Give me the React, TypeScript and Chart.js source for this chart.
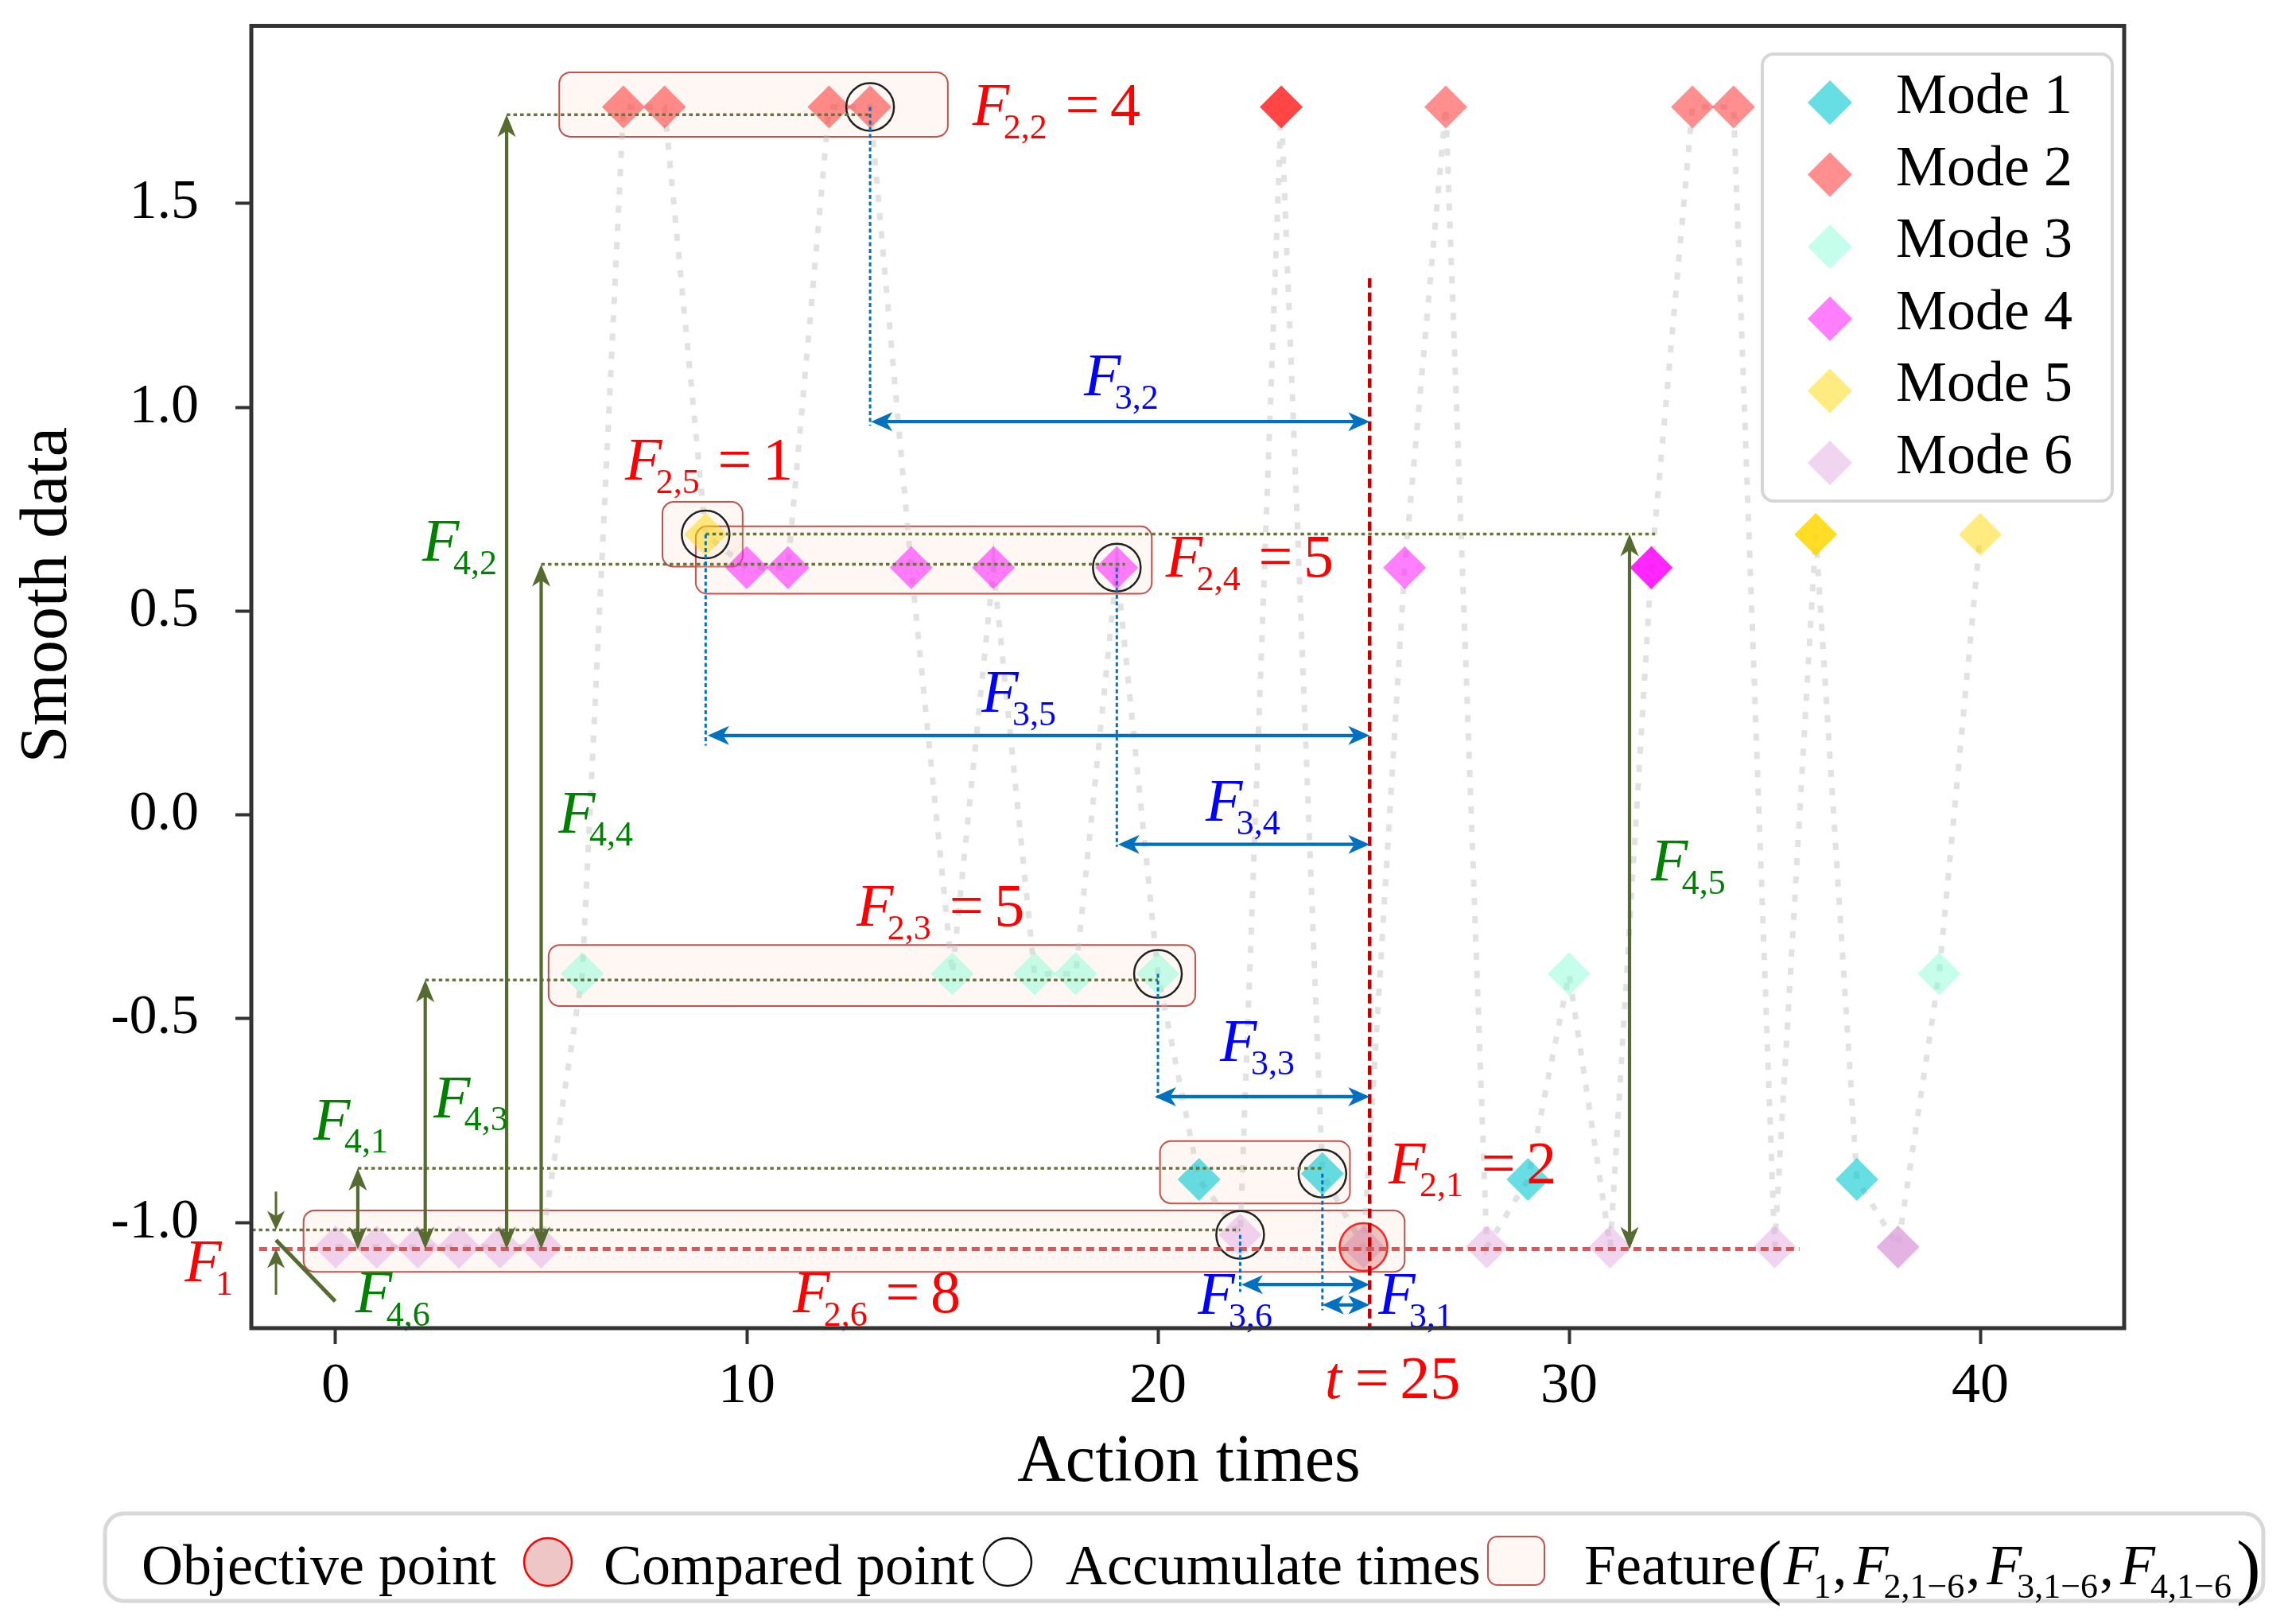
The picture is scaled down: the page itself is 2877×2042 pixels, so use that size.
import React, { useEffect, useRef } from 'react';
import { Chart, registerables } from 'chart.js';

Chart.register(...registerables);

const CANVAS_W = 2877;
const CANVAS_H = 2042;
const SERIF = '"Liberation Serif", "Times New Roman", serif';

// ---------------- data ----------------
const actionTimes = [0, 1, 2, 3, 4, 5, 6, 7, 8, 9, 10, 11, 12, 13, 14, 15, 16, 17, 18, 19, 20,
  21, 22, 23, 24, 25, 26, 27, 28, 29, 30, 31, 32, 33, 34, 35, 36, 37, 38, 39, 40];
const pointModes = [6, 6, 6, 6, 6, 6, 3, 2, 2, 5, 4, 4, 2, 2, 4, 3, 4, 3, 3, 4, 3,
  1, 6, 2, 1, 6, 4, 2, 6, 1, 3, 6, 4, 2, 2, 6, 5, 1, 6, 3, 5];
const smoothData = [-1.06, -1.06, -1.06, -1.06, -1.06, -1.06,
  -0.39, 1.737, 1.737, 0.688, 0.607, 0.607, 1.737, 1.737, 0.607, -0.39, 0.607, -0.39, -0.39, 0.607, -0.39,
  -0.894, -1.03, 1.737, -0.88, -1.06, 0.607, 1.737, -1.06, -0.894, -0.39, -1.06, 0.607, 1.737, 1.737,
  -1.06, 0.688, -0.894, -1.06, -0.39, 0.688];
const modeNames = ['Mode 1', 'Mode 2', 'Mode 3', 'Mode 4', 'Mode 5', 'Mode 6'];
const comparedTimes = [13, 9, 19, 20, 24, 22];
const objectiveTime = 25;
const strongTimes = [23, 32, 36, 38];

const xRange = [-2.05, 43.5];
const yRange = [-1.259, 1.936];
const xTickStep = 10;
const yTickStep = 0.5;

// ---------------- styles ----------------
const modeRGB = ['0,200,210', '255,50,50', '127,255,212', '255,0,255', '255,215,0', '221,160,221'];
const modeAlpha = [0.6, 0.55, 0.45, 0.5, 0.5, 0.45];
const OLIVE = '#556b2f';
const OLIVE_DOT = '#66763a';
const BLUE_ARROW = '#0070c0';
const RED_T = '#c00000';

// ---------------- annotation geometry (data coordinates) ----------------
const tLineX = 25.15;
const tLineTop = 1.317;
const objectiveLevel = -1.065;
const objectiveLine = { x0: -1.86, x1: 35.6 };

const featureBoxes = [
  { x0: 5.44, x1: 14.89, yTop: 1.822, yBottom: 1.664 },
  { x0: 7.95, x1: 9.9, yTop: 0.768, yBottom: 0.609 },
  { x0: 8.76, x1: 19.85, yTop: 0.708, yBottom: 0.543 },
  { x0: 5.18, x1: 20.91, yTop: -0.319, yBottom: -0.469 },
  { x0: 20.05, x1: 24.67, yTop: -0.8, yBottom: -0.953 },
  { x0: -0.78, x1: 26.0, yTop: -0.97, yBottom: -1.121 },
];

const levelLines = [
  { y: 1.718, x0: 4.16, x1: 13 },
  { y: 0.689, x0: 9, x1: 32.09 },
  { y: 0.615, x0: 5.0, x1: 19.2 },
  { y: -0.405, x0: 2.18, x1: 20 },
  { y: -0.867, x0: 0.54, x1: 24 },
  { y: -1.018, x0: -2.03, x1: 22 },
];

const f4Arrows = [
  { x: 0.54, yTop: -0.867 },
  { x: 2.18, yTop: -0.405 },
  { x: 4.16, yTop: 1.718 },
  { x: 5.0, yTop: 0.615 },
  { x: 31.47, yTop: 0.689 },
];

const f3Arrows = [
  { y: 0.965, x0: 13.02 },
  { y: 0.195, x0: 9.05 },
  { y: -0.072, x0: 19.03 },
  { y: -0.691, x0: 19.92 },
  { y: -1.152, x0: 22.03 },
  { y: -1.202, x0: 24.0 },
];

const blueGuides = [
  { x: 13, y0: 1.737, y1: 0.955 },
  { x: 9, y0: 0.688, y1: 0.17 },
  { x: 19, y0: 0.607, y1: -0.078 },
  { x: 20, y0: -0.39, y1: -0.695 },
  { x: 22, y0: -1.03, y1: -1.17 },
  { x: 24, y0: -0.88, y1: -1.215 },
];

const f1Marker = { x: -1.45, upperFrom: -0.924, upperTo: -1.018, lowerFrom: -1.177, lowerTo: -1.065 };
const f46Pointer = { x0: -1.45, y0: -1.043, x1: -0.008, y1: -1.193 };

const RED = '#ff0000';
const BLUE = '#0000ff';
const GREEN = '#008000';
const fLabels = [
  { x: 15.49, y: 1.693, sub: '2,2', value: '4', color: RED },
  { x: 18.2, y: 1.029, sub: '3,2', value: null, color: BLUE },
  { x: 7.04, y: 0.823, sub: '2,5', value: '1', color: RED },
  { x: 20.19, y: 0.584, sub: '2,4', value: '5', color: RED },
  { x: 2.11, y: 0.623, sub: '4,2', value: null, color: GREEN },
  { x: 15.71, y: 0.253, sub: '3,5', value: null, color: BLUE },
  { x: 5.42, y: -0.043, sub: '4,4', value: null, color: GREEN },
  { x: 21.16, y: -0.014, sub: '3,4', value: null, color: BLUE },
  { x: 31.99, y: -0.161, sub: '4,5', value: null, color: GREEN },
  { x: 12.67, y: -0.272, sub: '2,3', value: '5', color: RED },
  { x: 21.51, y: -0.603, sub: '3,3', value: null, color: BLUE },
  { x: 2.38, y: -0.741, sub: '4,3', value: null, color: GREEN },
  { x: -0.54, y: -0.796, sub: '4,1', value: null, color: GREEN },
  { x: 25.61, y: -0.903, sub: '2,1', value: '2', color: RED },
  { x: -3.67, y: -1.144, sub: '1', value: null, color: RED },
  { x: 0.48, y: -1.22, sub: '4,6', value: null, color: GREEN },
  { x: 11.12, y: -1.22, sub: '2,6', value: '8', color: RED },
  { x: 20.97, y: -1.224, sub: '3,6', value: null, color: BLUE },
  { x: 25.36, y: -1.224, sub: '3,1', value: null, color: BLUE },
];
const tLabel = { x: 24.06, y: -1.43, name: 't', value: '25' };

// ---------------- drawing helpers ----------------
function roundRectPath(ctx: CanvasRenderingContext2D, x: number, y: number, w: number, h: number, r: number) {
  ctx.beginPath();
  ctx.moveTo(x + r, y);
  ctx.lineTo(x + w - r, y);
  ctx.arcTo(x + w, y, x + w, y + r, r);
  ctx.lineTo(x + w, y + h - r);
  ctx.arcTo(x + w, y + h, x + w - r, y + h, r);
  ctx.lineTo(x + r, y + h);
  ctx.arcTo(x, y + h, x, y + h - r, r);
  ctx.lineTo(x, y + r);
  ctx.arcTo(x, y, x + r, y, r);
  ctx.closePath();
}

function arrowHead(ctx: CanvasRenderingContext2D, x: number, y: number, ang: number, L: number, Wh: number) {
  const c = Math.cos(ang), s = Math.sin(ang);
  ctx.beginPath();
  ctx.moveTo(x, y);
  ctx.lineTo(x - L * c + Wh * s, y - L * s - Wh * c);
  ctx.lineTo(x - L * 0.72 * c, y - L * 0.72 * s);
  ctx.lineTo(x - L * c - Wh * s, y - L * s + Wh * c);
  ctx.closePath();
  ctx.fill();
}

function arrow(ctx: CanvasRenderingContext2D, x1: number, y1: number, x2: number, y2: number,
  color: string, lw: number, L: number, Wh: number, headStart: boolean, headEnd: boolean) {
  const ang = Math.atan2(y2 - y1, x2 - x1);
  const c = Math.cos(ang), s = Math.sin(ang);
  let sx = x1, sy = y1, ex = x2, ey = y2;
  if (headStart) { sx += c * L * 0.7; sy += s * L * 0.7; }
  if (headEnd) { ex -= c * L * 0.7; ey -= s * L * 0.7; }
  ctx.save();
  ctx.setLineDash([]);
  ctx.strokeStyle = color;
  ctx.fillStyle = color;
  ctx.lineWidth = lw;
  ctx.beginPath();
  ctx.moveTo(sx, sy);
  ctx.lineTo(ex, ey);
  ctx.stroke();
  if (headEnd) arrowHead(ctx, x2, y2, ang, L, Wh);
  if (headStart) arrowHead(ctx, x1, y1, ang + Math.PI, L, Wh);
  ctx.restore();
}

function dashedLine(ctx: CanvasRenderingContext2D, x1: number, y1: number, x2: number, y2: number,
  color: string, lw: number, dash: number[]) {
  ctx.save();
  ctx.strokeStyle = color;
  ctx.lineWidth = lw;
  ctx.setLineDash(dash);
  ctx.beginPath();
  ctx.moveTo(x1, y1);
  ctx.lineTo(x2, y2);
  ctx.stroke();
  ctx.restore();
}

function drawFLabel(ctx: CanvasRenderingContext2D, x: number, y: number, main: string, sub: string | null,
  value: string | null, color: string, size = 76) {
  ctx.save();
  ctx.fillStyle = color;
  ctx.textAlign = 'left';
  ctx.textBaseline = 'alphabetic';
  ctx.font = `italic ${size}px ${SERIF}`;
  ctx.fillText(main, x, y);
  let cx = x + ctx.measureText(main).width;
  if (sub) {
    cx -= size * 0.1;
    const ss = Math.round(size * 0.58);
    ctx.font = `${ss}px ${SERIF}`;
    ctx.fillText(sub, cx, y + size * 0.22);
    cx += ctx.measureText(sub).width;
  }
  if (value != null) {
    cx += sub ? size * 0.3 : size * 0.22;
    ctx.font = `${size}px ${SERIF}`;
    ctx.fillText('=', cx, y);
    cx += ctx.measureText('=').width + size * 0.18;
    ctx.fillText(value, cx, y);
  }
  ctx.restore();
}

function diamond(ctx: CanvasRenderingContext2D, x: number, y: number, r: number, fill: string) {
  ctx.beginPath();
  ctx.moveTo(x, y - r);
  ctx.lineTo(x + r, y);
  ctx.lineTo(x, y + r);
  ctx.lineTo(x - r, y);
  ctx.closePath();
  ctx.fillStyle = fill;
  ctx.fill();
}

function zeroPadding(s: any) {
  s.paddingTop = 0;
  s.paddingBottom = 0;
  s.paddingLeft = 0;
  s.paddingRight = 0;
}

const overlayPlugin = {
  id: 'overlayAnnotations',
  beforeDatasetsDraw(chart: any) {
    const { ctx } = chart;
    const X = (v: number) => chart.scales.x.getPixelForValue(v);
    const Y = (v: number) => chart.scales.y.getPixelForValue(v);
    ctx.save();
    for (const b of featureBoxes) {
      const x0 = X(b.x0), x1 = X(b.x1), y0 = Y(b.yTop), y1 = Y(b.yBottom);
      roundRectPath(ctx, x0, y0, x1 - x0, y1 - y0, 14);
      ctx.fillStyle = 'rgba(250,220,200,0.22)';
      ctx.fill();
      ctx.strokeStyle = '#c8504a';
      ctx.lineWidth = 2;
      ctx.stroke();
    }
    ctx.restore();
  },
  afterDatasetsDraw(chart: any) {
    const { ctx, chartArea } = chart;
    const X = (v: number) => chart.scales.x.getPixelForValue(v);
    const Y = (v: number) => chart.scales.y.getPixelForValue(v);

    dashedLine(ctx, X(objectiveLine.x0), Y(objectiveLevel), X(objectiveLine.x1), Y(objectiveLevel), '#cd5c5c', 5, [10, 6]);
    for (const l of levelLines) dashedLine(ctx, X(l.x0), Y(l.y), X(l.x1), Y(l.y), OLIVE_DOT, 3.5, [4.5, 4]);
    for (const g of blueGuides) dashedLine(ctx, X(g.x), Y(g.y0), X(g.x), Y(g.y1), BLUE_ARROW, 3, [5, 3.5]);
    dashedLine(ctx, X(tLineX), Y(tLineTop), X(tLineX), chartArea.bottom, RED_T, 4.5, [12, 6]);

    for (const a of f4Arrows) arrow(ctx, X(a.x), Y(objectiveLevel), X(a.x), Y(a.yTop), OLIVE, 4.2, 28, 11.5, true, true);
    arrow(ctx, X(f1Marker.x), Y(f1Marker.upperFrom), X(f1Marker.x), Y(f1Marker.upperTo), OLIVE, 3, 24, 11, false, true);
    arrow(ctx, X(f1Marker.x), Y(f1Marker.lowerFrom), X(f1Marker.x), Y(f1Marker.lowerTo), OLIVE, 3, 24, 11, false, true);
    ctx.save();
    ctx.strokeStyle = OLIVE;
    ctx.lineWidth = 5;
    ctx.beginPath();
    ctx.moveTo(X(f46Pointer.x0), Y(f46Pointer.y0));
    ctx.lineTo(X(f46Pointer.x1), Y(f46Pointer.y1));
    ctx.stroke();
    ctx.restore();

    for (const a of f3Arrows) arrow(ctx, X(a.x0), Y(a.y), X(tLineX), Y(a.y), BLUE_ARROW, 4.2, 27, 12, true, true);

    for (const f of fLabels) drawFLabel(ctx, X(f.x), Y(f.y), 'F', f.sub, f.value, f.color);
    drawFLabel(ctx, X(tLabel.x), Y(tLabel.y), tLabel.name, null, tLabel.value, RED);
  },
  afterDraw(chart: any) {
    const { ctx, chartArea } = chart;
    ctx.save();
    ctx.strokeStyle = '#333333';
    ctx.lineWidth = 5;
    ctx.setLineDash([]);
    ctx.strokeRect(chartArea.left, chartArea.top, chartArea.right - chartArea.left, chartArea.bottom - chartArea.top);

    ctx.fillStyle = '#000';
    ctx.font = `84px ${SERIF}`;
    ctx.textAlign = 'center';
    ctx.textBaseline = 'alphabetic';
    ctx.fillText('Action times', 1495, 1862);
    ctx.save();
    ctx.translate(83, 748);
    ctx.rotate(-Math.PI / 2);
    ctx.fillText('Smooth data', 0, 0);
    ctx.restore();

    // mode legend (top right)
    const lx = 2216, ly = 68;
    roundRectPath(ctx, lx, ly, 440, 562, 14);
    ctx.fillStyle = 'rgba(255,255,255,0.85)';
    ctx.fill();
    ctx.strokeStyle = '#d6d6d6';
    ctx.lineWidth = 4;
    ctx.stroke();
    ctx.font = `72px ${SERIF}`;
    ctx.textAlign = 'left';
    modeNames.forEach((name, i) => {
      const base = 142 + i * 90.6;
      diamond(ctx, 2301, base - 13, 28, `rgba(${modeRGB[i]},${modeAlpha[i]})`);
      ctx.fillStyle = '#000';
      ctx.fillText(name, 2384, base);
    });

    // bottom legend
    roundRectPath(ctx, 132, 1903, 2714, 110, 24);
    ctx.fillStyle = '#ffffff';
    ctx.fill();
    ctx.strokeStyle = '#d8d8d8';
    ctx.lineWidth = 5;
    ctx.stroke();
    const by = 1992;
    ctx.fillStyle = '#000';
    ctx.font = `72px ${SERIF}`;
    ctx.fillText('Objective point', 178, by);
    ctx.beginPath();
    ctx.arc(689, 1964, 30, 0, Math.PI * 2);
    ctx.fillStyle = 'rgba(205,92,92,0.35)';
    ctx.fill();
    ctx.strokeStyle = '#ff0000';
    ctx.lineWidth = 2.5;
    ctx.stroke();
    ctx.fillStyle = '#000';
    ctx.fillText('Compared point', 759, by);
    ctx.beginPath();
    ctx.arc(1267, 1964, 30, 0, Math.PI * 2);
    ctx.strokeStyle = '#111';
    ctx.lineWidth = 2.5;
    ctx.stroke();
    ctx.fillText('Accumulate times', 1340, by);
    roundRectPath(ctx, 1871, 1932, 71, 61, 12);
    ctx.fillStyle = 'rgba(250,220,200,0.22)';
    ctx.fill();
    ctx.strokeStyle = '#c8504a';
    ctx.lineWidth = 2;
    ctx.stroke();

    let cx = 1992;
    ctx.fillStyle = '#000';
    ctx.font = `72px ${SERIF}`;
    ctx.fillText('Feature', cx, by);
    cx += ctx.measureText('Feature').width + 2;
    ctx.font = `92px ${SERIF}`;
    ctx.fillText('(', cx, by + 8);
    cx += ctx.measureText('(').width + 2;
    const subs = ['1', '2,1\u22126', '3,1\u22126', '4,1\u22126'];
    subs.forEach((s, i) => {
      ctx.font = `italic 72px ${SERIF}`;
      ctx.fillText('F', cx, by);
      cx += ctx.measureText('F').width - 6;
      ctx.font = `44px ${SERIF}`;
      ctx.fillText(s, cx, by + 17);
      cx += ctx.measureText(s).width + 2;
      if (i < subs.length - 1) {
        ctx.font = `72px ${SERIF}`;
        ctx.fillText(',', cx, by);
        cx += ctx.measureText(',').width + 8;
      }
    });
    ctx.font = `92px ${SERIF}`;
    ctx.fillText(')', cx + 4, by + 8);
    ctx.restore();
  },
};

export default function App() {
  const canvasRef = useRef<HTMLCanvasElement | null>(null);

  useEffect(() => {
    const canvas = canvasRef.current;
    if (!canvas) return;
    Chart.defaults.font.family = SERIF;

    const lineData = actionTimes.map((t, i) => ({ x: t, y: smoothData[i] }));
    const modeDatasets = modeNames.map((name, m) => {
      const pts = actionTimes
        .map((t, i) => ({ x: t, y: smoothData[i], mode: pointModes[i] }))
        .filter((p) => p.mode === m + 1)
        .map((p) => ({ x: p.x, y: p.y }));
      return {
        label: name,
        data: pts,
        pointStyle: 'rectRot',
        pointRadius: 27,
        borderWidth: 0,
        backgroundColor: (c: any) => {
          const raw = c.raw as { x: number } | undefined;
          const strong = raw && strongTimes.includes(raw.x);
          return `rgba(${modeRGB[m]},${strong ? Math.min(0.95, modeAlpha[m] + 0.35) : modeAlpha[m]})`;
        },
        order: 5,
      };
    });
    const comparedData = comparedTimes.map((t) => ({ x: t, y: smoothData[actionTimes.indexOf(t)] }));
    const objectiveData = [{ x: objectiveTime, y: smoothData[actionTimes.indexOf(objectiveTime)] }];

    const chart = new Chart(canvas, {
      type: 'scatter',
      data: {
        datasets: [
          {
            label: 'trace',
            data: lineData,
            showLine: true,
            pointRadius: 0,
            borderColor: 'rgba(185,185,185,0.42)',
            borderWidth: 7,
            borderDash: [9, 14],
            tension: 0,
            order: 10,
          } as any,
          ...(modeDatasets as any[]),
          {
            label: 'Objective point',
            data: objectiveData,
            pointStyle: 'circle',
            pointRadius: 30,
            backgroundColor: 'rgba(205,92,92,0.35)',
            borderColor: '#ff2020',
            borderWidth: 2.5,
            order: 1,
          } as any,
          {
            label: 'Compared point',
            data: comparedData,
            pointStyle: 'circle',
            pointRadius: 30,
            backgroundColor: 'rgba(0,0,0,0)',
            borderColor: '#222',
            borderWidth: 2.5,
            order: 1,
          } as any,
        ],
      },
      options: {
        animation: false,
        responsive: false,
        devicePixelRatio: 1,
        events: [],
        layout: { padding: { left: 0, top: 28, right: 206, bottom: 0 } },
        plugins: { legend: { display: false }, tooltip: { enabled: false } },
        scales: {
          x: {
            type: 'linear',
            min: xRange[0],
            max: xRange[1],
            afterFit: (s: any) => { s.height = 372; zeroPadding(s); },
            ticks: {
              stepSize: xTickStep,
              includeBounds: false,
              color: '#000',
              padding: 11,
              font: { family: SERIF, size: 72 },
              callback: (v: any) => String(v),
            },
            grid: { display: true, drawOnChartArea: false, drawTicks: true, tickLength: 20, tickWidth: 4, tickColor: '#333' },
            border: { display: false },
          },
          y: {
            type: 'linear',
            min: yRange[0],
            max: yRange[1],
            afterFit: (s: any) => { s.width = 316; zeroPadding(s); },
            ticks: {
              stepSize: yTickStep,
              includeBounds: false,
              color: '#000',
              padding: 46,
              font: { family: SERIF, size: 70 },
              callback: (v: any) => Number(v).toFixed(1),
            },
            grid: { display: true, drawOnChartArea: false, drawTicks: true, tickLength: 20, tickWidth: 4, tickColor: '#333' },
            border: { display: false },
          },
        },
      } as any,
      plugins: [overlayPlugin],
    });

    return () => chart.destroy();
  }, []);

  return (
    <div style={{ position: 'absolute', left: 0, top: 0, width: CANVAS_W, height: CANVAS_H, background: '#fff' }}>
      <canvas ref={canvasRef} width={CANVAS_W} height={CANVAS_H} style={{ display: 'block', width: CANVAS_W, height: CANVAS_H }} />
    </div>
  );
}
